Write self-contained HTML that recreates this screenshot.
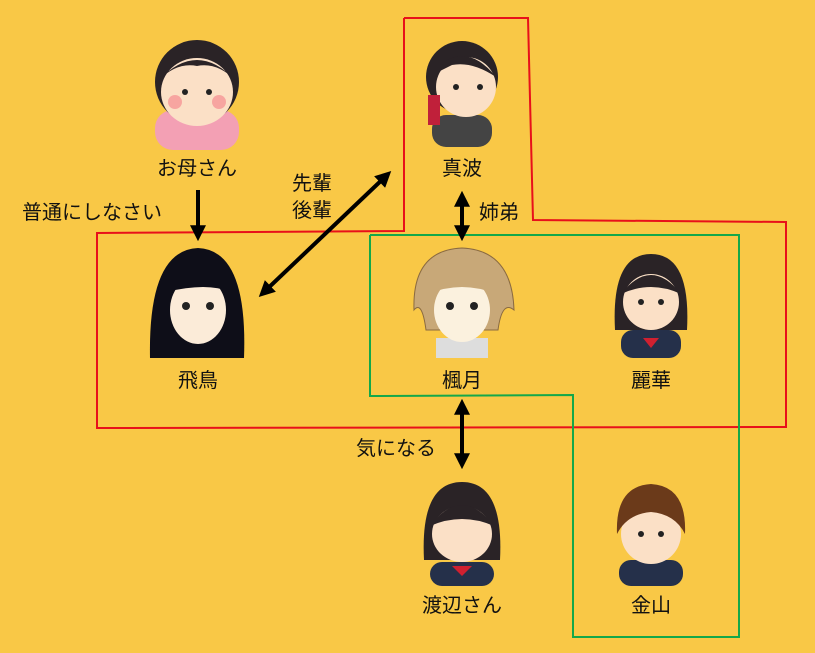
<!DOCTYPE html>
<html><head><meta charset="utf-8"><style>
html,body{margin:0;padding:0;background:#F9C846;}
svg{display:block}
text{font-family:"Liberation Sans","Noto Sans CJK JP",sans-serif;font-size:20px;fill:#111;}
</style></head><body>
<svg width="815" height="653" viewBox="0 0 815 653" xmlns="http://www.w3.org/2000/svg">
<defs>
<marker id="ah" markerWidth="4" markerHeight="4" refX="2.2" refY="2" orient="auto-start-reverse" markerUnits="strokeWidth">
<path d="M0,0 L4,2 L0,4 z" fill="#000"/></marker>
</defs>
<polyline points="404,18 528,18 533,220 786,222 786,427 97,428 97,233 404,231 404,18" fill="none" stroke="#E8101A" stroke-width="2"/>
<polyline points="370,235 739,235 739,637 573,637 573,395 370,396 370,235" fill="none" stroke="#14A84A" stroke-width="2"/>

<!-- arrows -->
<line x1="198" y1="190" x2="198" y2="234" stroke="#000" stroke-width="4" marker-end="url(#ah)"/>
<line x1="264" y1="292" x2="386" y2="176" stroke="#000" stroke-width="4" marker-start="url(#ah)" marker-end="url(#ah)"/>
<line x1="462" y1="198" x2="462" y2="234" stroke="#000" stroke-width="4" marker-start="url(#ah)" marker-end="url(#ah)"/>
<line x1="462" y1="406" x2="462" y2="462" stroke="#000" stroke-width="4" marker-start="url(#ah)" marker-end="url(#ah)"/>

<!-- mother -->
<g transform="translate(197,90)">
<rect x="-42" y="20" width="84" height="40" rx="18" fill="#F3A0B4"/>
<circle cx="0" cy="-8" r="42" fill="#2A2326"/>
<ellipse cx="0" cy="2" rx="36" ry="34" fill="#FBE0C6"/>
<path d="M-38,-10 Q0,-50 38,-10 Q20,-28 0,-24 Q-20,-28 -38,-10z" fill="#2A2326"/>
<circle cx="-22" cy="12" r="7" fill="#F7A5A0"/><circle cx="22" cy="12" r="7" fill="#F7A5A0"/>
<circle cx="-12" cy="2" r="3" fill="#222"/><circle cx="12" cy="2" r="3" fill="#222"/>
</g>
<!-- maha -->
<g transform="translate(462,85)">
<rect x="-30" y="30" width="60" height="32" rx="14" fill="#444"/>
<circle cx="0" cy="-8" r="36" fill="#2A2326"/>
<ellipse cx="4" cy="2" rx="30" ry="30" fill="#FBE0C6"/>
<path d="M-34,-8 Q0,-50 34,-8 Q10,-24 -10,-20z" fill="#2A2326"/>
<rect x="-34" y="10" width="12" height="30" fill="#C0203A"/>
<circle cx="-6" cy="2" r="3" fill="#222"/><circle cx="18" cy="2" r="3" fill="#222"/>
</g>
<!-- asuka -->
<g transform="translate(198,300)">
<path d="M-48,58 Q-50,-50 0,-52 Q50,-50 46,58z" fill="#0E0E18"/>
<ellipse cx="0" cy="10" rx="28" ry="34" fill="#FBEBD8"/>
<path d="M-32,-8 Q0,-46 32,-8 Q10,-18 -32,-8z" fill="#0E0E18"/>
<circle cx="-12" cy="6" r="4" fill="#222"/><circle cx="12" cy="6" r="4" fill="#222"/>
</g>
<!-- kaede -->
<g transform="translate(462,300)">
<rect x="-26" y="38" width="52" height="20" fill="#ddd"/>
<path d="M-48,10 Q-50,-50 0,-52 Q50,-50 52,10 Q40,0 36,30 L-36,30 Q-40,0 -48,10z" fill="#C8A878" stroke="#8A6A40"/>
<ellipse cx="0" cy="10" rx="28" ry="32" fill="#FBF1DE"/>
<path d="M-34,-6 Q0,-48 34,-6 Q0,-20 -34,-6z" fill="#C8A878"/>
<circle cx="-12" cy="6" r="4" fill="#222"/><circle cx="12" cy="6" r="4" fill="#222"/>
</g>
<!-- reika -->
<g transform="translate(651,300)">
<rect x="-30" y="30" width="60" height="28" rx="12" fill="#25304A"/>
<path d="M-36,30 Q-40,-46 0,-46 Q40,-46 36,30z" fill="#2A2326"/>
<ellipse cx="0" cy="2" rx="28" ry="28" fill="#FBE0C6"/>
<path d="M-30,-6 Q0,-44 30,-6 Q0,-20 -30,-6z" fill="#2A2326"/>
<circle cx="-10" cy="2" r="3" fill="#222"/><circle cx="10" cy="2" r="3" fill="#222"/>
<path d="M-8,38 L8,38 L0,48z" fill="#D02030"/>
</g>
<!-- watanabe -->
<g transform="translate(462,530)">
<rect x="-32" y="32" width="64" height="24" rx="12" fill="#25304A"/>
<path d="M-38,30 Q-42,-48 0,-48 Q42,-48 38,30z" fill="#2A2326"/>
<ellipse cx="0" cy="4" rx="30" ry="28" fill="#FBE0C6"/>
<path d="M-32,-4 Q0,-46 32,-4 Q0,-18 -32,-4z" fill="#2A2326"/>
<path d="M-10,36 L10,36 L0,46z" fill="#D02030"/>
</g>
<!-- kaneyama -->
<g transform="translate(651,530)">
<rect x="-32" y="30" width="64" height="26" rx="12" fill="#25304A"/>
<ellipse cx="0" cy="4" rx="30" ry="30" fill="#FBE0C6"/>
<path d="M-34,4 Q-36,-44 0,-46 Q36,-44 34,4 Q24,-16 0,-18 Q-24,-16 -34,4z" fill="#6B3A1A"/>
<circle cx="-10" cy="4" r="3" fill="#222"/><circle cx="10" cy="4" r="3" fill="#222"/>
</g>

<!-- labels -->
<text x="197" y="175" text-anchor="middle">お母さん</text>
<text x="22" y="219">普通にしなさい</text>
<text x="312" y="190" text-anchor="middle">先輩</text>
<text x="312" y="217" text-anchor="middle">後輩</text>
<text x="462" y="175" text-anchor="middle">真波</text>
<text x="479" y="219">姉弟</text>
<text x="198" y="387" text-anchor="middle">飛鳥</text>
<text x="462" y="387" text-anchor="middle">楓月</text>
<text x="651" y="387" text-anchor="middle">麗華</text>
<text x="356" y="455">気になる</text>
<text x="462" y="612" text-anchor="middle">渡辺さん</text>
<text x="651" y="612" text-anchor="middle">金山</text>
</svg>
</body></html>
